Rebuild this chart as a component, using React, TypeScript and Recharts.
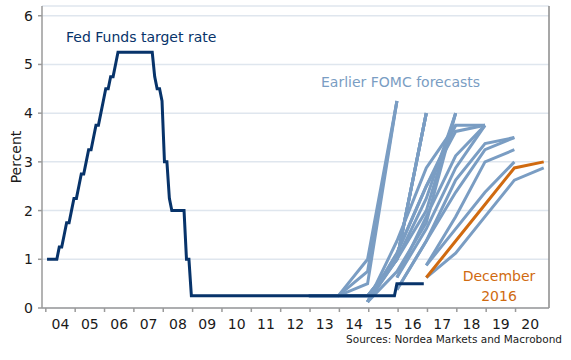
import { LineChart, Line, XAxis, YAxis, CartesianGrid, ReferenceLine } from "recharts";

// Fed funds target rate, end of month, Jan 2004 - Nov 2016
const fedStartYear = 2004;
const fedRate = [
  1, 1, 1, 1, 1, 1.25, 1.25, 1.5, 1.75, 1.75, 2, 2.25,
  2.25, 2.5, 2.75, 2.75, 3, 3.25, 3.25, 3.5, 3.75, 3.75, 4, 4.25,
  4.5, 4.5, 4.75, 4.75, 5, 5.25, 5.25, 5.25, 5.25, 5.25, 5.25, 5.25,
  5.25, 5.25, 5.25, 5.25, 5.25, 5.25, 5.25, 5.25, 4.75, 4.5, 4.5, 4.25,
  3, 3, 2.25, 2, 2, 2, 2, 2, 2, 1, 1, 0.25,
  0.25, 0.25, 0.25, 0.25, 0.25, 0.25, 0.25, 0.25, 0.25, 0.25, 0.25, 0.25,
  0.25, 0.25, 0.25, 0.25, 0.25, 0.25, 0.25, 0.25, 0.25, 0.25, 0.25, 0.25,
  0.25, 0.25, 0.25, 0.25, 0.25, 0.25, 0.25, 0.25, 0.25, 0.25, 0.25, 0.25,
  0.25, 0.25, 0.25, 0.25, 0.25, 0.25, 0.25, 0.25, 0.25, 0.25, 0.25, 0.25,
  0.25, 0.25, 0.25, 0.25, 0.25, 0.25, 0.25, 0.25, 0.25, 0.25, 0.25, 0.25,
  0.25, 0.25, 0.25, 0.25, 0.25, 0.25, 0.25, 0.25, 0.25, 0.25, 0.25, 0.25,
  0.25, 0.25, 0.25, 0.25, 0.25, 0.25, 0.25, 0.25, 0.25, 0.25, 0.25, 0.5,
  0.5, 0.5, 0.5, 0.5, 0.5, 0.5, 0.5, 0.5, 0.5, 0.5, 0.5,
];

// FOMC median projections, year-end values then longer run
const jan12 = [0.25, 0.25, 0.75, 4.25];
const apr12 = [0.25, 0.25, 1.0, 4.25];
const jun12 = [0.25, 0.25, 0.5, 4.25];
const sep12 = [0.25, 0.25, 0.25, 1.0, 4.0];
const dec12 = [0.25, 0.25, 0.25, 1.0, 4.0];
const mar13 = [0.25, 0.25, 1.0, 4.0];
const jun13 = [0.25, 0.25, 1.0, 4.0];
const sep13 = [0.125, 1.0, 2.0, 4.0];
const dec13 = [0.125, 0.75, 1.75, 4.0];
const mar14 = [0.125, 1.0, 2.25, 4.0];
const jun14 = [0.125, 1.125, 2.5, 3.75];
const sep14 = [0.125, 1.375, 2.875, 3.75, 3.75];
const dec14 = [0.125, 1.125, 2.5, 3.625, 3.75];
const mar15 = [0.625, 1.875, 3.125, 3.75];
const jun15 = [0.625, 1.625, 2.875, 3.75];
const sep15 = [0.375, 1.375, 2.625, 3.375, 3.5];
const dec15 = [0.375, 1.375, 2.375, 3.25, 3.5];
const mar16 = [0.875, 1.875, 3.0, 3.25];
const jun16 = [0.875, 1.625, 2.375, 3.0];
const sep16 = [0.625, 1.125, 1.875, 2.625, 2.875];
const dec16 = [0.625, 1.375, 2.125, 2.875, 3.0];

const earlier: [number, number[]][] = [
  [2012, jan12], [2012, apr12], [2012, jun12], [2012, sep12], [2012, dec12],
  [2013, mar13], [2013, jun13],
  [2014, sep13], [2014, dec13], [2014, mar14], [2014, jun14], [2014, sep14], [2014, dec14],
  [2015, mar15], [2015, jun15], [2015, sep15], [2015, dec15],
  [2016, mar16], [2016, jun16], [2016, sep16],
];
const latestStart = 2016;

const yearTicks = [2004, 2005, 2006, 2007, 2008, 2009, 2010, 2011, 2012, 2013, 2014, 2015, 2016, 2017, 2018, 2019, 2020];
const pctTicks = [0, 1, 2, 3, 4, 5, 6];

const toPoints = (start: number, values: number[]) =>
  values.map((v, i) => ({ x: start + i + 0.96, v }));

const fedData = fedRate.map((v, i) => ({ x: fedStartYear + (i + 0.5) / 12, v }));

const W = 571;
const H = 360;
const X_MIN = 2003.87;
const X_MAX = 2021.14;
const PLOT_W = 507;
const HALF_YEAR = PLOT_W / (X_MAX - X_MIN) / 2;

const FONT = "DejaVu Sans, Verdana, sans-serif";
const NAVY = "#07336a";
const BLUE = "#7a9dc3";
const ORANGE = "#d06a10";
const AXIS = "#9a9a9a";

function YearTick(props: any) {
  const { x, y, payload } = props;
  return (
    <text x={x + HALF_YEAR} y={y + 15} textAnchor="middle" fontSize={14} fontFamily={FONT} fill="#1a1a1a">
      {String(payload.value % 100).padStart(2, "0")}
    </text>
  );
}

export default function App() {
  return (
    <div style={{ position: "absolute", left: 0, top: 0, width: W, height: H, background: "#fff" }}>
      <LineChart width={W} height={H} margin={{ top: 6, right: 22, left: 0, bottom: 22 }}>
        <CartesianGrid horizontal vertical={false} stroke="#dfe6ee" strokeWidth={1.5} />
        <XAxis
          type="number"
          dataKey="x"
          domain={[X_MIN, X_MAX]}
          ticks={yearTicks}
          interval={0}
          allowDataOverflow
          height={30}
          tickSize={4}
          tick={<YearTick />}
          axisLine={{ stroke: AXIS, strokeWidth: 1.5 }}
          tickLine={{ stroke: AXIS, strokeWidth: 1.5 }}
        />
        <YAxis
          type="number"
          domain={[0, 6.2]}
          ticks={pctTicks}
          interval={0}
          width={42}
          tickSize={4}
          tickMargin={5}
          axisLine={{ stroke: AXIS, strokeWidth: 1.5 }}
          tickLine={{ stroke: AXIS, strokeWidth: 1.5 }}
          tick={{ fill: "#1a1a1a", fontSize: 14, fontFamily: FONT }}
        />
        <ReferenceLine x={X_MAX} stroke="#8a8a8a" strokeWidth={1.5} />
        {earlier.map(([start, values], i) => (
          <Line
            key={`f-${i}`}
            data={toPoints(start, values)}
            dataKey="v"
            type="linear"
            stroke={BLUE}
            strokeWidth={3}
            dot={false}
            activeDot={false}
            isAnimationActive={false}
          />
        ))}
        <Line
          data={toPoints(latestStart, dec16)}
          dataKey="v"
          type="linear"
          stroke={ORANGE}
          strokeWidth={3}
          dot={false}
          activeDot={false}
          isAnimationActive={false}
        />
        <Line
          data={fedData}
          dataKey="v"
          type="linear"
          stroke={NAVY}
          strokeWidth={3}
          dot={false}
          activeDot={false}
          isAnimationActive={false}
        />
      </LineChart>
      <svg width={W} height={H} style={{ position: "absolute", left: 0, top: 0, pointerEvents: "none" }}>
        <text x={16} y={157} transform="rotate(-90 16 157)" textAnchor="middle" dominantBaseline="central" fontSize={14} fontFamily={FONT} fill="#1a1a1a">
          Percent
        </text>
        <text x={66} y={42} fontSize={14} fontFamily={FONT} fill={NAVY}>Fed Funds target rate</text>
        <text x={321} y={87} fontSize={14} fontFamily={FONT} fill={BLUE}>Earlier FOMC forecasts</text>
        <text x={499} y={281} textAnchor="middle" fontSize={14} fontFamily={FONT} fill={ORANGE}>December</text>
        <text x={499} y={301} textAnchor="middle" fontSize={14} fontFamily={FONT} fill={ORANGE}>2016</text>
        <text x={562} y={343} textAnchor="end" fontSize={10.5} fontFamily={FONT} fill="#1a1a1a">Sources: Nordea Markets and Macrobond</text>
      </svg>
    </div>
  );
}
